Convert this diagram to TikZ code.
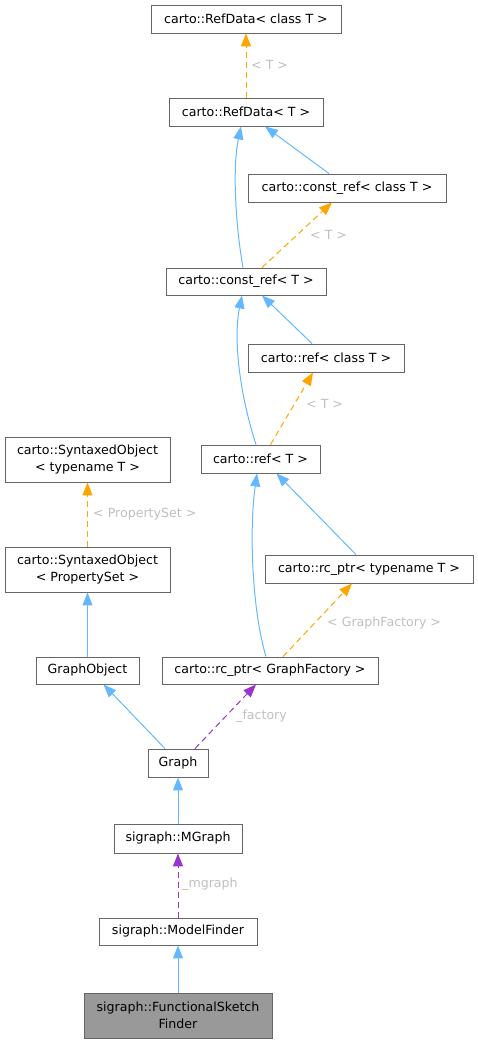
\documentclass[tikz,border=0pt]{standalone}
\usepackage{fontspec}
\setmainfont{DejaVu Sans}
\usetikzlibrary{arrows.meta,calc}
\definecolor{inhblue}{HTML}{63B8FF}
\definecolor{tplorange}{HTML}{FFA500}
\definecolor{usepurple}{HTML}{9A32CD}
\definecolor{boxgray}{HTML}{666666}
\definecolor{lblgray}{HTML}{BFBFBF}
\definecolor{fillgray}{HTML}{999999}
\newcommand{\dfont}{\fontsize{12.6}{17.5}\selectfont}
\begin{document}
\begin{tikzpicture}[x=1pt,y=-1pt,
  cls/.style={draw=boxgray, line width=0.9pt, fill=white, inner sep=0pt, align=center, font=\dfont},
  tip/.style={-{Triangle[length=13pt,width=10pt]}},
  inh/.style={draw=inhblue, line width=1pt, tip},
  tpl/.style={draw=tplorange, line width=1pt, dash pattern=on 6pt off 4pt, tip},
  usg/.style={draw=usepurple, line width=1pt, dash pattern=on 6pt off 4pt, tip},
  lbl/.style={text=lblgray, font=\dfont, inner sep=0pt, anchor=west}]
\useasboundingbox (0,0) rectangle (478,1043);
% nodes
\node[cls, minimum width=190pt, minimum height=28pt] (rdC) at (246,19) {carto::RefData< class T >};
\node[cls, minimum width=154pt, minimum height=28pt] (rdT) at (246,112) {carto::RefData< T >};
\node[cls, minimum width=198pt, minimum height=28pt] (crC) at (347,188) {carto::const\_ref< class T >};
\node[cls, minimum width=160pt, minimum height=27pt] (crT) at (246,281.5) {carto::const\_ref< T >};
\node[cls, minimum width=156pt, minimum height=28pt] (rC) at (326,358) {carto::ref< class T >};
\node[cls, minimum width=119pt, minimum height=28pt] (rT) at (260.5,459) {carto::ref< T >};
\node[cls, minimum width=165pt, minimum height=45pt] (soT) at (87.5,459.5) {carto::SyntaxedObject\\< typename T >};
\node[cls, minimum width=165pt, minimum height=45pt] (soP) at (87.5,569.5) {carto::SyntaxedObject\\< PropertySet >};
\node[cls, minimum width=208pt, minimum height=28pt] (rpT) at (369,569) {carto::rc\_ptr< typename T >};
\node[cls, minimum width=103pt, minimum height=27pt] (GO) at (87.5,670.5) {GraphObject};
\node[cls, minimum width=216pt, minimum height=27pt] (rpG) at (270,670.5) {carto::rc\_ptr< GraphFactory >};
\node[cls, minimum width=60pt, minimum height=28pt] (G) at (178,763) {Graph};
\node[cls, minimum width=128pt, minimum height=29pt] (MG) at (178,838.5) {sigraph::MGraph};
\node[cls, minimum width=158pt, minimum height=27pt] (MF) at (178,931.5) {sigraph::ModelFinder};
\node[cls, fill=fillgray, minimum width=188pt, minimum height=45pt] (FSF) at (178,1015.5) {sigraph::FunctionalSketch\\Finder};
% edges
\draw[tpl] (rdT.north) -- (rdC.south);
\node[lbl] (l1) at (251,65) {< T >};
\draw[inh] ([xshift=-3pt]crT.north) .. controls (236,228) and (232,170) .. ([xshift=-5pt]rdT.south);
\draw[inh] ([xshift=-18pt]crC.north) -- ([xshift=19pt]rdT.south);
\draw[tpl] ([xshift=16pt]crT.north) -- ([xshift=-15pt]crC.south);
\node[lbl] (l2) at (310,235) {< T >};
\draw[inh] ([xshift=-4.5pt]rT.north) .. controls (240,395) and (233,340) .. ([xshift=-4pt]crT.south);
\draw[inh] ([xshift=-14pt]rC.north) -- ([xshift=16pt]crT.south);
\draw[tpl] ([xshift=10pt]rT.north) -- ([xshift=-13pt]rC.south);
\node[lbl] (l3) at (306,404) {< T >};
\draw[inh] ([xshift=-4pt]rpG.north) .. controls (252,610) and (249,530) .. ([xshift=-3.5pt]rT.south);
\draw[inh] ([xshift=-13pt]rpT.north) -- ([xshift=16pt]rT.south);
\draw[tpl] ([xshift=13pt]rpG.north) -- ([xshift=-17pt]rpT.south);
\node[lbl] (l4) at (327,623) {< GraphFactory >};
\draw[tpl] (soP.north) -- (soT.south);
\node[lbl] (l5) at (93,514) {< PropertySet >};
\draw[inh] (GO.north) -- (soP.south);
\draw[inh] ([xshift=-13pt]G.north) -- ([xshift=16pt]GO.south);
\draw[usg] ([xshift=17pt]G.north) -- ([xshift=-14pt]rpG.south);
\node[lbl] (l6) at (236,716) {\_factory};
\draw[inh] (MG.north) -- (G.south);
\draw[usg] (MF.north) -- (MG.south);
\node[lbl] (l7) at (182,884) {\_mgraph};
\draw[inh] (FSF.north) -- (MF.south);
\end{tikzpicture}
\end{document}
